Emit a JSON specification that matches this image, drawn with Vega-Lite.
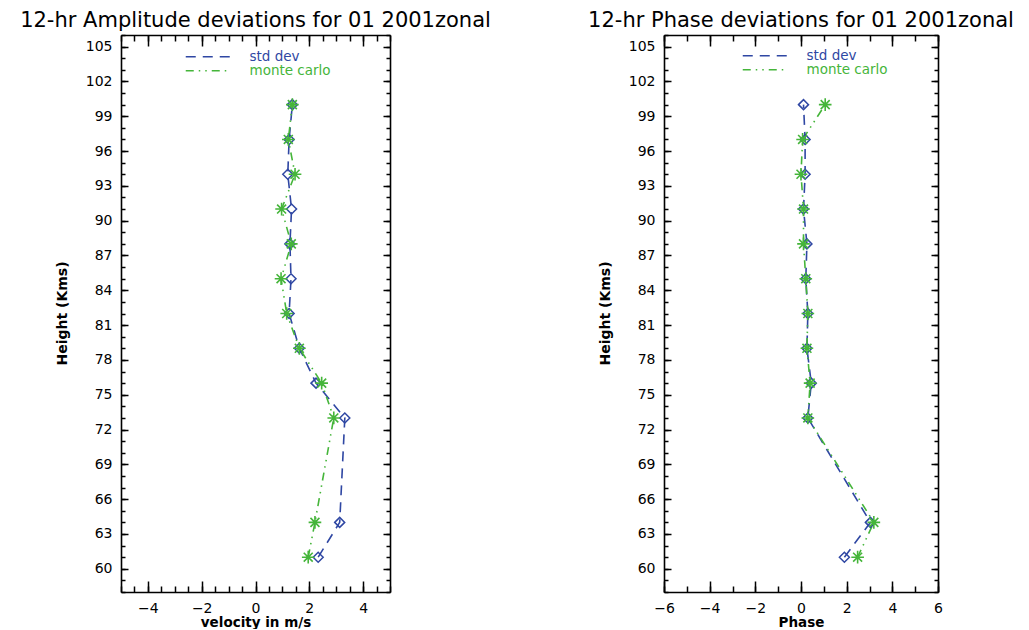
{
  "$schema": "https://vega.github.io/schema/vega-lite/v6.json",
  "background": "white",
  "padding": {"left": 20, "top": 10, "right": 2, "bottom": 0},
  "bounds": "flush",
  "spacing": 274,
  "datasets": {
    "amp": [
      {"series": "std dev", "height": 61, "value": 2.33},
      {"series": "std dev", "height": 64, "value": 3.13},
      {"series": "std dev", "height": 73, "value": 3.32},
      {"series": "std dev", "height": 76, "value": 2.25},
      {"series": "std dev", "height": 79, "value": 1.63},
      {"series": "std dev", "height": 82, "value": 1.25},
      {"series": "std dev", "height": 85, "value": 1.32},
      {"series": "std dev", "height": 88, "value": 1.28},
      {"series": "std dev", "height": 91, "value": 1.34},
      {"series": "std dev", "height": 94, "value": 1.2},
      {"series": "std dev", "height": 97, "value": 1.25},
      {"series": "std dev", "height": 100, "value": 1.37},
      {"series": "monte carlo", "height": 61, "value": 1.96},
      {"series": "monte carlo", "height": 64, "value": 2.21},
      {"series": "monte carlo", "height": 73, "value": 2.91},
      {"series": "monte carlo", "height": 76, "value": 2.46},
      {"series": "monte carlo", "height": 79, "value": 1.63},
      {"series": "monte carlo", "height": 82, "value": 1.16},
      {"series": "monte carlo", "height": 85, "value": 0.95},
      {"series": "monte carlo", "height": 88, "value": 1.33},
      {"series": "monte carlo", "height": 91, "value": 0.97},
      {"series": "monte carlo", "height": 94, "value": 1.47},
      {"series": "monte carlo", "height": 97, "value": 1.22},
      {"series": "monte carlo", "height": 100, "value": 1.37}
    ],
    "phase": [
      {"series": "std dev", "height": 61, "value": 1.9},
      {"series": "std dev", "height": 64, "value": 3.04},
      {"series": "std dev", "height": 73, "value": 0.3},
      {"series": "std dev", "height": 76, "value": 0.45},
      {"series": "std dev", "height": 79, "value": 0.26},
      {"series": "std dev", "height": 82, "value": 0.3},
      {"series": "std dev", "height": 85, "value": 0.21},
      {"series": "std dev", "height": 88, "value": 0.26},
      {"series": "std dev", "height": 91, "value": 0.11},
      {"series": "std dev", "height": 94, "value": 0.18},
      {"series": "std dev", "height": 97, "value": 0.18},
      {"series": "std dev", "height": 100, "value": 0.11},
      {"series": "monte carlo", "height": 61, "value": 2.48},
      {"series": "monte carlo", "height": 64, "value": 3.19},
      {"series": "monte carlo", "height": 73, "value": 0.3},
      {"series": "monte carlo", "height": 76, "value": 0.4},
      {"series": "monte carlo", "height": 79, "value": 0.26},
      {"series": "monte carlo", "height": 82, "value": 0.3},
      {"series": "monte carlo", "height": 85, "value": 0.21},
      {"series": "monte carlo", "height": 88, "value": 0.11},
      {"series": "monte carlo", "height": 91, "value": 0.11},
      {"series": "monte carlo", "height": 94, "value": 0.0},
      {"series": "monte carlo", "height": 97, "value": 0.07},
      {"series": "monte carlo", "height": 100, "value": 1.06}
    ]
  },
  "config": {
    "view": {"stroke": null},
    "font": "DejaVu Sans",
    "title": {"font": "DejaVu Sans", "fontSize": 21, "fontWeight": "normal", "color": "black", "anchor": "middle", "offset": 3},
    "axis": {
      "grid": false, "labelFont": "DejaVu Sans", "labelFontSize": 14, "labelColor": "black",
      "titleFont": "DejaVu Sans", "titleFontSize": 13.5, "titleFontWeight": "bold", "titleColor": "black",
      "domainColor": "black", "domainWidth": 1.6, "tickColor": "black", "tickWidth": 1.5,
      "labelFlush": false, "labelOverlap": false
    },
    "legend": {
      "orient": "none", "title": null, "symbolType": "M-22,0L22,0", "symbolSize": 4, "symbolStrokeWidth": 1.6,
      "labelOffset": 35, "labelFontSize": 13.5, "labelFont": "DejaVu Sans", "rowPadding": -12
    }
  },
  "resolve": {"scale": {"x": "independent", "y": "independent", "color": "independent", "strokeDash": "independent"}},
  "hconcat": [
    {
      "width": 269, "height": 557,
      "title": "12-hr Amplitude deviations for 01 2001zonal",
      "data": {"name": "amp"},
      "resolve": {"axis": {"x": "independent", "y": "independent"}},
      "layer": [
        {
          "transform": [{"filter": "datum.series === 'std dev'"}],
          "mark": {"type": "line", "strokeWidth": 1.6},
          "encoding": {
            "x": {"field": "value", "type": "quantitative", "scale": {"domain": [-5, 5], "nice": false, "zero": false},
              "axis": {"orient": "bottom", "values": [-4, -2, 0, 2, 4], "tickSize": -11, "labelPadding": 20, "title": "velocity in m/s", "titleY": 30, "titleBaseline": "middle"}},
            "y": {"field": "height", "type": "quantitative", "scale": {"domain": [58, 106], "nice": false, "zero": false},
              "axis": {"orient": "left", "values": [60, 63, 66, 69, 72, 75, 78, 81, 84, 87, 90, 93, 96, 99, 102, 105], "tickSize": -7, "labelPadding": 16, "title": "Height (Kms)", "titleFontSize": 14, "titleX": -59, "titleY": 278, "titleAngle": -90, "titleBaseline": "middle", "titleAlign": "center"}},
            "order": {"field": "height", "type": "quantitative"},
            "color": {"field": "series", "type": "nominal", "scale": {"domain": ["std dev", "monte carlo"], "range": ["#2f47a3", "#45b53a"]},
              "legend": {"legendX": 80, "legendY": 15,
                "encode": {"labels": {"update": {"fill": {"signal": "datum.label === 'std dev' ? '#2f47a3' : '#45b53a'"}}}}}},
            "strokeDash": {"field": "series", "type": "nominal", "scale": {"domain": ["std dev", "monte carlo"], "range": [[10, 7], [8, 5, 1.5, 5, 1.5, 5]]},
              "legend": {"legendX": 80, "legendY": 15,
                "encode": {"labels": {"update": {"fill": {"signal": "datum.label === 'std dev' ? '#2f47a3' : '#45b53a'"}}}}}}
          }
        },
        {
          "transform": [{"filter": "datum.series === 'monte carlo'"}],
          "mark": {"type": "line", "strokeWidth": 1.6},
          "encoding": {
            "x": {"field": "value", "type": "quantitative", "scale": {"domain": [-5, 5], "nice": false, "zero": false},
              "axis": {"orient": "bottom", "values": [-5, -4.5, -4, -3.5, -3, -2.5, -2, -1.5, -1, -0.5, 0, 0.5, 1, 1.5, 2, 2.5, 3, 3.5, 4, 4.5, 5], "tickSize": -6, "labels": false, "domain": false, "title": null}},
            "y": {"field": "height", "type": "quantitative", "scale": {"domain": [58, 106], "nice": false, "zero": false},
              "axis": {"orient": "left", "values": [58, 59, 60, 61, 62, 63, 64, 65, 66, 67, 68, 69, 70, 71, 72, 73, 74, 75, 76, 77, 78, 79, 80, 81, 82, 83, 84, 85, 86, 87, 88, 89, 90, 91, 92, 93, 94, 95, 96, 97, 98, 99, 100, 101, 102, 103, 104, 105, 106], "tickSize": -4, "labels": false, "domain": false, "title": null}},
            "order": {"field": "height", "type": "quantitative"},
            "color": {"field": "series", "type": "nominal", "scale": {"domain": ["std dev", "monte carlo"], "range": ["#2f47a3", "#45b53a"]},
              "legend": {"legendX": 80, "legendY": 15,
                "encode": {"labels": {"update": {"fill": {"signal": "datum.label === 'std dev' ? '#2f47a3' : '#45b53a'"}}}}}},
            "strokeDash": {"field": "series", "type": "nominal", "scale": {"domain": ["std dev", "monte carlo"], "range": [[10, 7], [8, 5, 1.5, 5, 1.5, 5]]},
              "legend": {"legendX": 80, "legendY": 15,
                "encode": {"labels": {"update": {"fill": {"signal": "datum.label === 'std dev' ? '#2f47a3' : '#45b53a'"}}}}}}
          }
        },
        {
          "transform": [{"filter": "datum.series === 'std dev'"}],
          "mark": {"type": "point", "shape": "diamond", "size": 100, "filled": false, "strokeWidth": 1.5, "color": "#2f47a3", "opacity": 1},
          "encoding": {
            "x": {"field": "value", "type": "quantitative", "scale": {"domain": [-5, 5], "nice": false, "zero": false},
              "axis": {"orient": "top", "values": [-4, -2, 0, 2, 4], "tickSize": -11, "labels": false, "title": null}},
            "y": {"field": "height", "type": "quantitative", "scale": {"domain": [58, 106], "nice": false, "zero": false},
              "axis": {"orient": "right", "values": [60, 63, 66, 69, 72, 75, 78, 81, 84, 87, 90, 93, 96, 99, 102, 105], "tickSize": -7, "labels": false, "title": null}}
          }
        },
        {
          "transform": [{"filter": "datum.series === 'monte carlo'"}],
          "mark": {"type": "point", "shape": "M-1,0L1,0M0,-1L0,1M-0.71,-0.71L0.71,0.71M-0.71,0.71L0.71,-0.71", "size": 160, "filled": false, "strokeWidth": 1.6, "color": "#45b53a", "opacity": 1},
          "encoding": {
            "x": {"field": "value", "type": "quantitative", "scale": {"domain": [-5, 5], "nice": false, "zero": false},
              "axis": {"orient": "top", "values": [-5, -4.5, -4, -3.5, -3, -2.5, -2, -1.5, -1, -0.5, 0, 0.5, 1, 1.5, 2, 2.5, 3, 3.5, 4, 4.5, 5], "tickSize": -6, "labels": false, "domain": false, "title": null}},
            "y": {"field": "height", "type": "quantitative", "scale": {"domain": [58, 106], "nice": false, "zero": false},
              "axis": {"orient": "right", "values": [58, 59, 60, 61, 62, 63, 64, 65, 66, 67, 68, 69, 70, 71, 72, 73, 74, 75, 76, 77, 78, 79, 80, 81, 82, 83, 84, 85, 86, 87, 88, 89, 90, 91, 92, 93, 94, 95, 96, 97, 98, 99, 100, 101, 102, 103, 104, 105, 106], "tickSize": -4, "labels": false, "domain": false, "title": null}}
          }
        }
      ]
    },
    {
      "width": 274, "height": 557,
      "title": "12-hr Phase deviations for 01 2001zonal",
      "data": {"name": "phase"},
      "resolve": {"axis": {"x": "independent", "y": "independent"}},
      "layer": [
        {
          "transform": [{"filter": "datum.series === 'std dev'"}],
          "mark": {"type": "line", "strokeWidth": 1.6},
          "encoding": {
            "x": {"field": "value", "type": "quantitative", "scale": {"domain": [-6, 6], "nice": false, "zero": false},
              "axis": {"orient": "bottom", "values": [-6, -4, -2, 0, 2, 4, 6], "tickSize": -11, "labelPadding": 20, "title": "Phase", "titleY": 30, "titleBaseline": "middle"}},
            "y": {"field": "height", "type": "quantitative", "scale": {"domain": [58, 106], "nice": false, "zero": false},
              "axis": {"orient": "left", "values": [60, 63, 66, 69, 72, 75, 78, 81, 84, 87, 90, 93, 96, 99, 102, 105], "tickSize": -7, "labelPadding": 16, "title": "Height (Kms)", "titleFontSize": 14, "titleX": -59, "titleY": 278, "titleAngle": -90, "titleBaseline": "middle", "titleAlign": "center"}},
            "order": {"field": "height", "type": "quantitative"},
            "color": {"field": "series", "type": "nominal", "scale": {"domain": ["std dev", "monte carlo"], "range": ["#2f47a3", "#45b53a"]},
              "legend": {"legendX": 94, "legendY": 14,
                "encode": {"labels": {"update": {"fill": {"signal": "datum.label === 'std dev' ? '#2f47a3' : '#45b53a'"}}}}}},
            "strokeDash": {"field": "series", "type": "nominal", "scale": {"domain": ["std dev", "monte carlo"], "range": [[10, 7], [8, 5, 1.5, 5, 1.5, 5]]},
              "legend": {"legendX": 94, "legendY": 14,
                "encode": {"labels": {"update": {"fill": {"signal": "datum.label === 'std dev' ? '#2f47a3' : '#45b53a'"}}}}}}
          }
        },
        {
          "transform": [{"filter": "datum.series === 'monte carlo'"}],
          "mark": {"type": "line", "strokeWidth": 1.6},
          "encoding": {
            "x": {"field": "value", "type": "quantitative", "scale": {"domain": [-6, 6], "nice": false, "zero": false},
              "axis": {"orient": "bottom", "values": [-6, -5, -4, -3, -2, -1, 0, 1, 2, 3, 4, 5, 6], "tickSize": -6, "labels": false, "domain": false, "title": null}},
            "y": {"field": "height", "type": "quantitative", "scale": {"domain": [58, 106], "nice": false, "zero": false},
              "axis": {"orient": "left", "values": [58, 59, 60, 61, 62, 63, 64, 65, 66, 67, 68, 69, 70, 71, 72, 73, 74, 75, 76, 77, 78, 79, 80, 81, 82, 83, 84, 85, 86, 87, 88, 89, 90, 91, 92, 93, 94, 95, 96, 97, 98, 99, 100, 101, 102, 103, 104, 105, 106], "tickSize": -4, "labels": false, "domain": false, "title": null}},
            "order": {"field": "height", "type": "quantitative"},
            "color": {"field": "series", "type": "nominal", "scale": {"domain": ["std dev", "monte carlo"], "range": ["#2f47a3", "#45b53a"]},
              "legend": {"legendX": 94, "legendY": 14,
                "encode": {"labels": {"update": {"fill": {"signal": "datum.label === 'std dev' ? '#2f47a3' : '#45b53a'"}}}}}},
            "strokeDash": {"field": "series", "type": "nominal", "scale": {"domain": ["std dev", "monte carlo"], "range": [[10, 7], [8, 5, 1.5, 5, 1.5, 5]]},
              "legend": {"legendX": 94, "legendY": 14,
                "encode": {"labels": {"update": {"fill": {"signal": "datum.label === 'std dev' ? '#2f47a3' : '#45b53a'"}}}}}}
          }
        },
        {
          "transform": [{"filter": "datum.series === 'std dev'"}],
          "mark": {"type": "point", "shape": "diamond", "size": 100, "filled": false, "strokeWidth": 1.5, "color": "#2f47a3", "opacity": 1},
          "encoding": {
            "x": {"field": "value", "type": "quantitative", "scale": {"domain": [-6, 6], "nice": false, "zero": false},
              "axis": {"orient": "top", "values": [-6, -4, -2, 0, 2, 4, 6], "tickSize": -11, "labels": false, "title": null}},
            "y": {"field": "height", "type": "quantitative", "scale": {"domain": [58, 106], "nice": false, "zero": false},
              "axis": {"orient": "right", "values": [60, 63, 66, 69, 72, 75, 78, 81, 84, 87, 90, 93, 96, 99, 102, 105], "tickSize": -7, "labels": false, "title": null}}
          }
        },
        {
          "transform": [{"filter": "datum.series === 'monte carlo'"}],
          "mark": {"type": "point", "shape": "M-1,0L1,0M0,-1L0,1M-0.71,-0.71L0.71,0.71M-0.71,0.71L0.71,-0.71", "size": 160, "filled": false, "strokeWidth": 1.6, "color": "#45b53a", "opacity": 1},
          "encoding": {
            "x": {"field": "value", "type": "quantitative", "scale": {"domain": [-6, 6], "nice": false, "zero": false},
              "axis": {"orient": "top", "values": [-6, -5, -4, -3, -2, -1, 0, 1, 2, 3, 4, 5, 6], "tickSize": -6, "labels": false, "domain": false, "title": null}},
            "y": {"field": "height", "type": "quantitative", "scale": {"domain": [58, 106], "nice": false, "zero": false},
              "axis": {"orient": "right", "values": [58, 59, 60, 61, 62, 63, 64, 65, 66, 67, 68, 69, 70, 71, 72, 73, 74, 75, 76, 77, 78, 79, 80, 81, 82, 83, 84, 85, 86, 87, 88, 89, 90, 91, 92, 93, 94, 95, 96, 97, 98, 99, 100, 101, 102, 103, 104, 105, 106], "tickSize": -4, "labels": false, "domain": false, "title": null}}
          }
        }
      ]
    }
  ]
}
